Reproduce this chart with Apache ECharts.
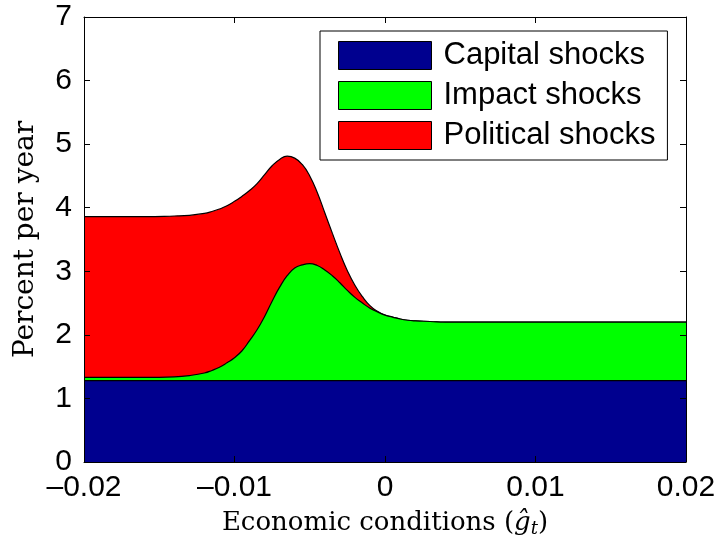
<!DOCTYPE html>
<html>
<head>
<meta charset="utf-8">
<script src="https://cdn.jsdelivr.net/npm/echarts@6/dist/echarts.min.js"></script>
<style>
  html, body { margin: 0; padding: 0; background: #fff; }
  #chart { width: 723px; height: 547px; }
</style>
</head>
<body>
<div id="chart"></div>
<script>
// Economic conditions (g-hat) at which each component is evaluated
const xValues = [
  -0.02, -0.018, -0.016, -0.014, -0.013,
  -0.012, -0.0115, -0.011, -0.0105, -0.010, -0.0095, -0.009, -0.0085, -0.008, -0.0075,
  -0.007, -0.0065, -0.006, -0.0055, -0.005, -0.0045, -0.004, -0.0035, -0.003, -0.0025,
  -0.002, -0.0015, -0.001, -0.0005, 0, 0.0005, 0.001, 0.0015,
  0.002, 0.003, 0.004, 0.006, 0.01, 0.015, 0.02
];

// Components of the risk premium, percent per year (stacked)
const capitalShocks = [
  1.28, 1.28, 1.28, 1.28, 1.28,
  1.28, 1.28, 1.28, 1.28, 1.28, 1.28, 1.28, 1.28, 1.28, 1.28,
  1.28, 1.28, 1.28, 1.28, 1.28, 1.28, 1.28, 1.28, 1.28, 1.28,
  1.28, 1.28, 1.28, 1.28, 1.28, 1.28, 1.28, 1.28,
  1.28, 1.28, 1.28, 1.28, 1.28, 1.28, 1.28
];
const impactShocks = [
  0.05, 0.05, 0.05, 0.06, 0.08,
  0.12, 0.16, 0.21, 0.28, 0.36, 0.47, 0.63, 0.80, 1.01, 1.25,
  1.47, 1.65, 1.77, 1.82, 1.84, 1.81, 1.74, 1.65, 1.54, 1.42,
  1.31, 1.22, 1.14, 1.08, 1.03, 1.00, 0.97, 0.95,
  0.94, 0.93, 0.92, 0.92, 0.92, 0.92, 0.92
];
const politicalShocks = [
  2.53, 2.53, 2.53, 2.53, 2.52,
  2.51, 2.50, 2.49, 2.47, 2.46, 2.43, 2.36, 2.30, 2.23, 2.13,
  2.01, 1.88, 1.73, 1.58, 1.38, 1.15, 0.90, 0.67, 0.47, 0.31,
  0.19, 0.10, 0.04, 0.01, 0, 0, 0, 0,
  0, 0, 0, 0, 0, 0, 0
];

const seriesNames = ['Capital shocks', 'Impact shocks', 'Political shocks'];
const seriesColors = ['#00008f', '#00ff00', '#ff0000'];
const seriesValues = [capitalShocks, impactShocks, politicalShocks];

const xTicks = { min: -0.02, max: 0.02, interval: 0.01 };
const yTicks = { min: 0, max: 7, interval: 1 };

const labelFont = 'Liberation Sans, Arial, Helvetica, sans-serif';
const serifFont = 'DejaVu Serif, serif';

// Running totals: each layer is filled from zero up to its cumulative height,
// upper layers painted first so the lower ones sit in front.
const cumulative = [];
seriesValues.forEach((vals, k) => {
  cumulative.push(vals.map((v, i) => (k > 0 ? cumulative[k - 1][i] : 0) + v));
});

function fmtX(v) {
  if (Math.abs(v) < 1e-12) return '0';
  return v.toFixed(2).replace('-', '\u2013');
}

const chart = echarts.init(document.getElementById('chart'), null, { renderer: 'canvas' });

const boxAxisCommon = {
  axisLine: { show: true, onZero: false, lineStyle: { color: '#000', width: 1 } },
  axisTick: { show: true, inside: true, length: 6, lineStyle: { color: '#000', width: 1 } },
  splitLine: { show: false },
  z: 10
};

chart.setOption({
  animation: false,
  backgroundColor: '#fff',
  grid: { left: 84, right: 37, top: 17, bottom: 85, containLabel: false },
  legend: {
    orient: 'vertical',
    left: 320,
    top: 31,
    data: seriesNames.map(n => ({ name: n, icon: 'rect' })),
    itemWidth: 93,
    itemHeight: 28,
    itemGap: 9,
    padding: [9, 12, 9, 18],
    backgroundColor: '#fff',
    borderColor: '#000',
    borderWidth: 1,
    borderRadius: 0,
    selectedMode: false,
    z: 20,
    itemStyle: { borderColor: '#000', borderWidth: 1 },
    textStyle: {
      fontFamily: labelFont,
      fontSize: 31,
      color: '#000',
      lineHeight: 28,
      padding: [0, 0, 0, 7]
    }
  },
  xAxis: [
    Object.assign({}, boxAxisCommon, {
      type: 'value',
      position: 'bottom',
      min: xTicks.min, max: xTicks.max, interval: xTicks.interval,
      name: '{t|Economic conditions (}{g|\u011d}{s|t}{t|)}',
      nameLocation: 'middle',
      nameGap: 46,
      nameTextStyle: {
        rich: {
          t: { fontFamily: serifFont, fontSize: 26, color: '#000' },
          g: { fontFamily: serifFont, fontSize: 26, fontStyle: 'italic', color: '#000' },
          s: { fontFamily: serifFont, fontSize: 18, fontStyle: 'italic', color: '#000', verticalAlign: 'bottom', padding: [12, 0, 0, 0] }
        }
      },
      axisLabel: { show: true, margin: 11, fontFamily: labelFont, fontSize: 30, color: '#000', formatter: fmtX }
    }),
    Object.assign({}, boxAxisCommon, {
      type: 'value',
      position: 'top',
      min: xTicks.min, max: xTicks.max, interval: xTicks.interval,
      axisLabel: { show: false }
    })
  ],
  yAxis: [
    Object.assign({}, boxAxisCommon, {
      type: 'value',
      position: 'left',
      min: yTicks.min, max: yTicks.max, interval: yTicks.interval,
      name: 'Percent per year',
      nameLocation: 'middle',
      nameGap: 44,
      nameRotate: 90,
      nameTextStyle: { fontFamily: serifFont, fontSize: 28, color: '#000' },
      axisLabel: { show: true, margin: 12, fontFamily: labelFont, fontSize: 30, color: '#000' }
    }),
    Object.assign({}, boxAxisCommon, {
      type: 'value',
      position: 'right',
      min: yTicks.min, max: yTicks.max, interval: yTicks.interval,
      axisLabel: { show: false }
    })
  ],
  series: seriesNames.map((name, k) => ({
    name: name,
    type: 'line',
    xAxisIndex: 0,
    yAxisIndex: 0,
    z: 5 - k,
    smooth: 0.5,
    symbol: 'none',
    color: seriesColors[k],
    itemStyle: { color: seriesColors[k] },
    lineStyle: { color: '#000', width: 1.2 },
    areaStyle: { color: seriesColors[k], opacity: 1, origin: 'start' },
    data: xValues.map((x, i) => [x, cumulative[k][i]])
  }))
});
</script>
</body>
</html>
